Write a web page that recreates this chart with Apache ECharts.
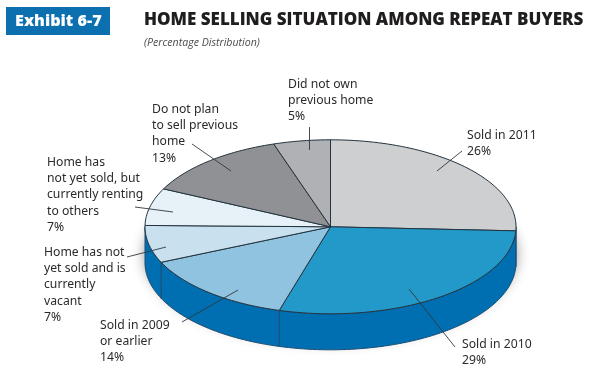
<!DOCTYPE html>
<html><head><meta charset="utf-8">
<style>html,body{margin:0;padding:0;background:#fff}#c{width:593px;height:373px}</style>
<script src="https://cdn.jsdelivr.net/npm/echarts@6/dist/echarts.min.js"></script>
</head><body><div id="c"></div>
<script>
// Data, clockwise from 12 o'clock
const categories = ['Sold in 2011','Sold in 2010','Sold in 2009\nor earlier','Home has not\nyet sold and is\ncurrently\nvacant','Home has\nnot yet sold, but\ncurrently renting\nto others','Do not plan\nto sell previous\nhome','Did not own\nprevious home'];
const shares = [26,29,14,7,7,13,5];
const colors = ['#cdcfd1','#2299c9','#90c3e0','#c9e1ef','#e6f1f8','#8f9194','#afb1b4'];
const total = shares.reduce((a,b)=>a+b,0);

const chart = echarts.init(document.getElementById('c'),null,{renderer:'canvas'});
const cx=330.5, cy=226.8, rx=185.5, ry=87, depth=36;
const P=(deg,dy)=>{const t=deg*Math.PI/180;return [cx+rx*Math.sin(t),cy-ry*Math.cos(t)+(dy||0)];};
const startOf=i=>shares.slice(0,i).reduce((a,b)=>a+b,0)/total*360;
const arc=(a,b,dy)=>{const n=Math.max(2,Math.ceil(Math.abs(b-a)/1.5)),o=[];for(let k=0;k<=n;k++)o.push(P(a+(b-a)*k/n,dy));return o;};
const sideColor='#006fb2', edge='#24343f';

const labelPos=[[467,127],[462,336],[100,317],[44,244],[47,154],[152,101],[288,76]];
const leaders=[[[462,151],[437,171]],[[455,347],[409,289]],[[182,322],[238,290]],[[127,257],[166,247]],[[135,207],[173,212]],[[192,144],[231,171]],[[309.5,127],[309.5,150]]];

const graphic=[
 {type:'rect',shape:{x:6,y:7,width:104,height:28},style:{fill:'#0b6fb0'},z:20},
 {type:'text',x:15,y:21,style:{text:'Exhibit 6-7',fill:'#fff',font:'800 16.2px "Open Sans"',textVerticalAlign:'middle'},z:21},
 {type:'text',x:144,y:20,style:{text:'HOME SELLING SITUATION AMONG REPEAT BUYERS',fill:'#1f1d1e',font:'800 17px "Open Sans"',textVerticalAlign:'middle'},z:21},
 {type:'text',x:144,y:42.5,style:{text:'(Percentage Distribution)',fill:'#4a4a4a',font:'italic 10.6px "Open Sans"',textVerticalAlign:'middle'},z:21}
];
categories.forEach((c,i)=>{
 graphic.push({type:'text',x:labelPos[i][0],y:labelPos[i][1],z:21,style:{text:c+'\n'+shares[i]+'%',fill:'#2a2a2a',font:'12.2px "Noto Sans"',lineHeight:16.4,textVerticalAlign:'top'}});
 graphic.push({type:'line',z:22,shape:{x1:leaders[i][0][0],y1:leaders[i][0][1],x2:leaders[i][1][0],y2:leaders[i][1][1]},style:{stroke:'#30383d',lineWidth:0.9}});
});

const rows=shares.map((v,i)=>({value:v,name:categories[i]}));
chart.setOption({
 animation:false,backgroundColor:'#fff',
 graphic,
 series:[
  {type:'custom',coordinateSystem:'none',z:1,silent:true,data:[total],
   renderItem(){return {type:'polygon',shape:{points:arc(0,360,depth*0.6)},style:{fill:'#fff',shadowBlur:14,shadowOffsetY:6,shadowColor:'rgba(0,0,0,0.45)'}};}},
  {type:'custom',coordinateSystem:'none',z:2,silent:true,data:rows,
   renderItem(p){
    const a=Math.max(startOf(p.dataIndex),90), b=Math.min(startOf(p.dataIndex+1),270);
    if(b<=a) return {type:'group',children:[]};
    return {type:'polygon',shape:{points:arc(a,b,0).concat(arc(b,a,depth))},style:{fill:sideColor,stroke:'#1d4f74',lineWidth:1}};
   }},
  {type:'custom',coordinateSystem:'none',z:3,silent:true,data:rows,
   renderItem(p){
    const a=startOf(p.dataIndex), b=startOf(p.dataIndex+1);
    return {type:'polygon',shape:{points:[[cx,cy]].concat(arc(a,b,0))},style:{fill:colors[p.dataIndex],stroke:edge,lineWidth:1,lineJoin:'round'}};
   }}
 ]
});
</script></body></html>
